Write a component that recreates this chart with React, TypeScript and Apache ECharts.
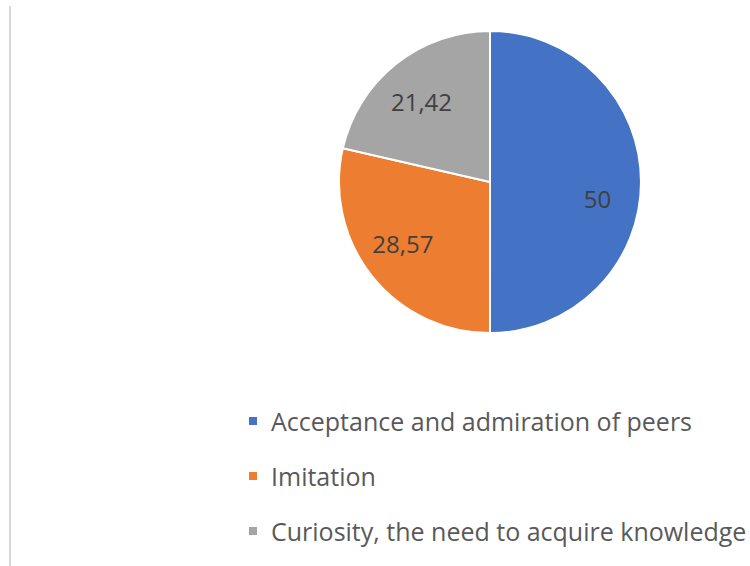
import React, { useEffect, useRef } from "react";
import * as echarts from "echarts";

const categories = [
  "Acceptance and admiration of peers",
  "Imitation",
  "Curiosity, the need to acquire knowledge",
];
const values = [50, 28.57, 21.42];
const valueLabels = ["50", "28,57", "21,42"];
const colors = ["#4472C4", "#ED7D31", "#A5A5A5"];

// label nudges (Excel "best fit" placement)
const labelOffsets: [number, number][] = [
  [-4, 16],
  [0, -8],
  [1, 7],
];

export default function App() {
  const ref = useRef<HTMLDivElement>(null);
  useEffect(() => {
    if (!ref.current) return;
    const chart = echarts.init(ref.current, undefined, { renderer: "svg" });
    const data = categories.map((name, i) => ({
      name,
      value: values[i],
      itemStyle: { color: colors[i] },
    }));
    chart.setOption({
      animation: false,
      backgroundColor: "#ffffff",
      color: colors,
      legend: {
        orient: "vertical",
        left: 242,
        top: 402,
        itemWidth: 10,
        itemHeight: 10,
        itemGap: 27,
        icon: "rect",
        data: categories,
        textStyle: {
          fontFamily: "Open Sans",
          fontSize: 25,
          color: "#595959",
          lineHeight: 28,
          padding: [0, 0, 0, 8],
        },
      },
      graphic: [
        {
          type: "line",
          shape: { x1: 10, y1: 6, x2: 10, y2: 566 },
          style: { stroke: "#d9d9d9", lineWidth: 2 },
          silent: true,
        },
      ],
      series: [
        {
          type: "pie",
          center: [490, 182],
          radius: 151,
          startAngle: 90,
          clockwise: true,
          label: { show: false },
          labelLine: { show: false },
          itemStyle: { borderColor: "#ffffff", borderWidth: 2 },
          emphasis: { disabled: true },
          data,
        },
        {
          type: "pie",
          center: [490, 182],
          radius: [66, 151],
          startAngle: 90,
          clockwise: true,
          silent: true,
          label: {
            show: true,
            position: "inside",
            fontFamily: "Open Sans",
            fontSize: 24,
            color: "#404040",
            formatter: (p: any) => valueLabels[p.dataIndex],
          },
          labelLine: { show: false },
          emphasis: { disabled: true },
          data: data.map((d, i) => ({
            ...d,
            itemStyle: { color: "rgba(0,0,0,0)", borderWidth: 0 },
            label: { offset: labelOffsets[i] },
          })),
        },
      ],
    });
    return () => chart.dispose();
  }, []);
  return (
    <div
      ref={ref}
      style={{ position: "fixed", left: 0, top: 0, width: 750, height: 566 }}
    />
  );
}
